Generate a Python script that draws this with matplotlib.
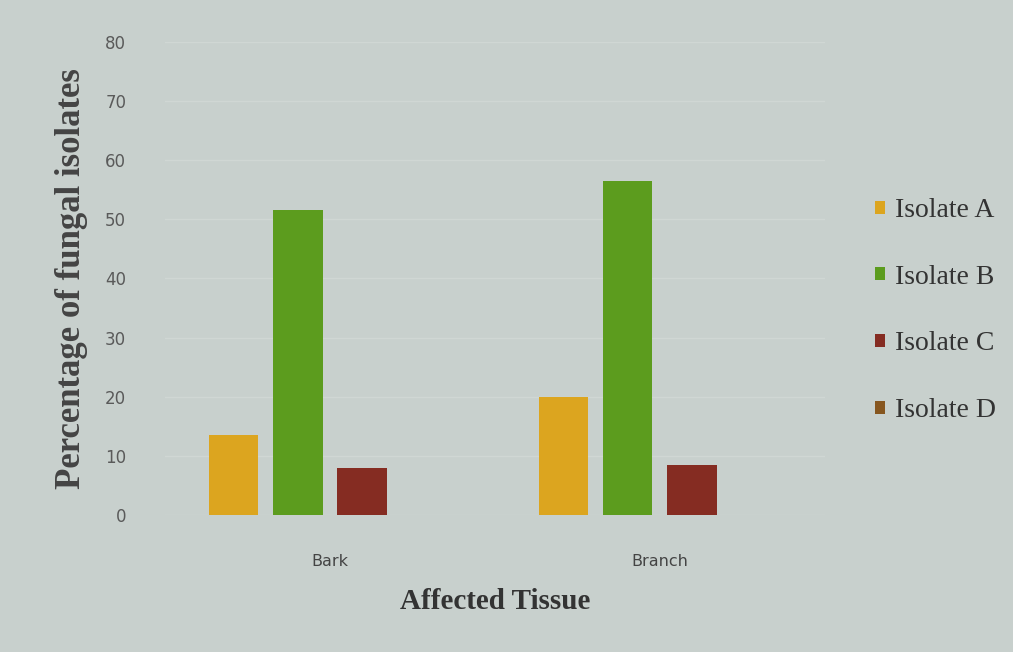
import matplotlib.pyplot as plt
import numpy as np

tissues = ["Bark", "Branch"]
isolates = ["Isolate A", "Isolate B", "Isolate C", "Isolate D"]
# percentage of fungal isolates per tissue, one list per isolate
iso_a = [13.5, 20.0]
iso_b = [51.5, 56.5]
iso_c = [8.0, 8.5]
iso_d = [0.0, 0.0]
colors = ["#dca51f", "#5c9c1e", "#852c22", "#86561f"]

fig = plt.figure(figsize=(10.13, 6.52), dpi=100, facecolor="#c8d0cd")
ax = fig.add_axes([0.163, 0.21, 0.651, 0.726])
ax.set_facecolor("#c8d0cd")

x = np.arange(len(tissues))
w = 0.15
step = 0.195
for i, (vals, lab) in enumerate(zip([iso_a, iso_b, iso_c, iso_d], isolates)):
    ax.bar(x + (i - 1.5) * step, vals, width=w, color=colors[i], label=lab, zorder=3)

ax.set_xlim(-0.5, 1.5)
ax.set_ylim(0, 80)
ax.set_yticks(range(0, 81, 10))
ax.grid(axis="y", color="#d0d7d4", linewidth=1.0, zorder=0)
for s in ax.spines.values():
    s.set_visible(False)
ax.tick_params(axis="both", length=0, colors="#4a4a4a")
ax.tick_params(axis="y", pad=28, labelsize=12)
ax.tick_params(axis="x", pad=28, labelsize=11.5)
ax.set_xticks(x)
ax.set_xticklabels(tissues, family="DejaVu Sans", color="#444444")
for t in ax.get_yticklabels():
    t.set_family("DejaVu Sans")
    t.set_color("#5a5a5a")

ax.set_xlabel("Affected Tissue", family="Liberation Serif", fontweight="bold",
              fontsize=21, color="#333333", labelpad=14)
ax.set_ylabel("Percentage of fungal isolates", family="Liberation Serif",
              fontweight="bold", fontsize=25, color="#444444", labelpad=12)

leg = ax.legend(loc="center left", bbox_to_anchor=(1.077, 0.432), frameon=False,
                prop={"family": "Liberation Serif", "size": 20},
                handlelength=0.35, handleheight=0.35, handletextpad=0.35,
                labelspacing=1.5, labelcolor="#333333",
                borderpad=0, borderaxespad=0)

fig.savefig("out.png", dpi=100, facecolor=fig.get_facecolor())
